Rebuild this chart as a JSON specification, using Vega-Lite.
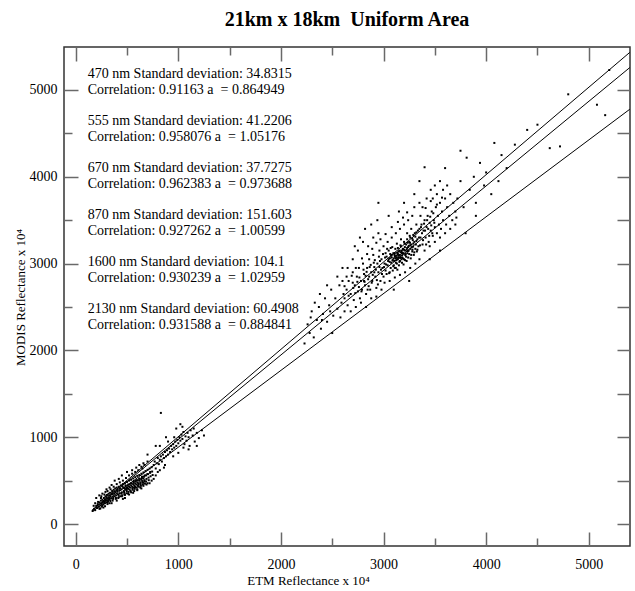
{
"$schema": "https://vega.github.io/schema/vega-lite/v6.json",
"width": 566, "height": 499,
"autosize": {"type": "none"},
"padding": {"left": 64, "top": 47, "right": 5, "bottom": 45},
"background": "white",
"title": {"text": "21km x 18km \u00a0Uniform Area", "font": "Liberation Serif", "fontSize": 20, "fontWeight": "bold", "color": "black", "offset": 16},
"config": {
  "view": {"stroke": "#333", "strokeWidth": 1.5}
},
"datasets": {
"lines": [
 {"band": "870", "e": 160, "m": 161}, {"band": "870", "e": 5400, "m": 5433},
 {"band": "670", "e": 160, "m": 156}, {"band": "670", "e": 5400, "m": 5258},
 {"band": "2130", "e": 160, "m": 142}, {"band": "2130", "e": 5400, "m": 4778}
],
"notesA": [
 {"e": 117, "m": 5182, "t": "470 nm Standard deviation: 34.8315"},
 {"e": 117, "m": 4641, "t": "555 nm Standard deviation: 41.2206"},
 {"e": 117, "m": 4099, "t": "670 nm Standard deviation: 37.7275"},
 {"e": 117, "m": 3558, "t": "870 nm Standard deviation: 151.603"},
 {"e": 117, "m": 3016, "t": "1600 nm Standard deviation: 104.1"},
 {"e": 117, "m": 2475, "t": "2130 nm Standard deviation: 60.4908"}
],
"notesB": [
 {"e": 117, "m": 5003, "t": "Correlation: 0.91163 a \u00a0= 0.864949"},
 {"e": 117, "m": 4462, "t": "Correlation: 0.958076 a \u00a0= 1.05176"},
 {"e": 117, "m": 3920, "t": "Correlation: 0.962383 a \u00a0= 0.973688"},
 {"e": 117, "m": 3379, "t": "Correlation: 0.927262 a \u00a0= 1.00599"},
 {"e": 117, "m": 2837, "t": "Correlation: 0.930239 a \u00a0= 1.02959"},
 {"e": 117, "m": 2296, "t": "Correlation: 0.931588 a \u00a0= 0.884841"}
],
"low": [
 {"e":165,"m":150},{"e":180,"m":175},{"e":190,"m":160},{"e":200,"m":210},{"e":210,"m":185},{"e":215,"m":230},{"e":225,"m":200},{"e":230,"m":250},{"e":240,"m":215},{"e":245,"m":270},
 {"e":250,"m":235},{"e":255,"m":200},{"e":260,"m":280},{"e":265,"m":250},{"e":270,"m":225},{"e":275,"m":300},{"e":280,"m":260},{"e":285,"m":240},{"e":290,"m":320},{"e":295,"m":275},
 {"e":300,"m":250},{"e":305,"m":335},{"e":310,"m":290},{"e":315,"m":265},{"e":320,"m":350},{"e":325,"m":300},{"e":330,"m":280},{"e":335,"m":360},{"e":340,"m":320},{"e":345,"m":295},
 {"e":350,"m":240},{"e":200,"m":300},{"e":230,"m":330},{"e":260,"m":350},{"e":290,"m":370},{"e":310,"m":230},{"e":240,"m":180},{"e":270,"m":190},{"e":190,"m":240},{"e":175,"m":210},
 {"e":355,"m":380},{"e":360,"m":340},{"e":365,"m":310},{"e":370,"m":395},{"e":375,"m":350},{"e":380,"m":320},{"e":385,"m":410},{"e":390,"m":365},{"e":395,"m":330},{"e":400,"m":420},
 {"e":405,"m":380},{"e":410,"m":345},{"e":415,"m":300},{"e":420,"m":430},{"e":425,"m":390},{"e":430,"m":355},{"e":435,"m":320},{"e":440,"m":445},{"e":445,"m":400},{"e":450,"m":365},
 {"e":455,"m":330},{"e":460,"m":460},{"e":465,"m":415},{"e":470,"m":380},{"e":475,"m":345},{"e":480,"m":470},{"e":485,"m":430},{"e":490,"m":395},{"e":495,"m":355},{"e":500,"m":485},
 {"e":505,"m":440},{"e":510,"m":405},{"e":515,"m":370},{"e":520,"m":500},{"e":525,"m":455},{"e":530,"m":420},{"e":535,"m":380},{"e":540,"m":510},{"e":545,"m":470},{"e":550,"m":430},
 {"e":555,"m":395},{"e":560,"m":525},{"e":565,"m":480},{"e":570,"m":445},{"e":575,"m":405},{"e":580,"m":540},{"e":585,"m":495},{"e":590,"m":455},{"e":595,"m":420},{"e":600,"m":555},
 {"e":605,"m":505},{"e":610,"m":470},{"e":615,"m":430},{"e":620,"m":565},{"e":625,"m":520},{"e":630,"m":480},{"e":635,"m":440},{"e":640,"m":580},{"e":645,"m":530},{"e":650,"m":495},
 {"e":655,"m":455},{"e":660,"m":595},{"e":665,"m":545},{"e":670,"m":505},{"e":675,"m":465},{"e":680,"m":610},{"e":685,"m":560},{"e":690,"m":520},{"e":700,"m":625},{"e":705,"m":575},
 {"e":710,"m":535},{"e":720,"m":640},{"e":725,"m":590},{"e":730,"m":550},{"e":740,"m":655},{"e":745,"m":605},{"e":750,"m":565},
 {"e":380,"m":500},{"e":420,"m":520},{"e":450,"m":560},{"e":480,"m":300},{"e":520,"m":340},{"e":560,"m":360},{"e":600,"m":390},{"e":640,"m":410},{"e":400,"m":270},{"e":460,"m":290},
 {"e":500,"m":600},{"e":550,"m":620},{"e":590,"m":650},{"e":620,"m":680},{"e":660,"m":700},{"e":700,"m":470},{"e":740,"m":500},{"e":760,"m":520},{"e":780,"m":560},{"e":800,"m":600},
 {"e":350,"m":450},{"e":330,"m":420},{"e":300,"m":400},{"e":700,"m":720},{"e":650,"m":640},
 {"e":760,"m":680},{"e":770,"m":720},{"e":780,"m":640},{"e":790,"m":700},{"e":800,"m":760},{"e":810,"m":690},{"e":820,"m":740},{"e":830,"m":780},{"e":840,"m":720},{"e":850,"m":800},
 {"e":860,"m":760},{"e":870,"m":830},{"e":880,"m":780},{"e":890,"m":850},{"e":900,"m":800},{"e":910,"m":870},{"e":920,"m":830},{"e":930,"m":900},{"e":940,"m":860},{"e":950,"m":920},
 {"e":960,"m":880},{"e":970,"m":950},{"e":980,"m":900},{"e":990,"m":970},{"e":1000,"m":930},{"e":1010,"m":1000},{"e":1020,"m":960},{"e":1030,"m":1030},{"e":1040,"m":980},{"e":1050,"m":1060},
 {"e":1060,"m":920},{"e":1070,"m":1010},{"e":1080,"m":960},{"e":1090,"m":1050},{"e":1100,"m":1000},{"e":1110,"m":900},{"e":1120,"m":1080},{"e":1140,"m":1020},{"e":1160,"m":950},{"e":1180,"m":1050},
 {"e":1200,"m":990},{"e":1230,"m":1080},{"e":1250,"m":1020},{"e":1100,"m":860},{"e":1050,"m":880},{"e":960,"m":1000},{"e":900,"m":950},{"e":870,"m":680},{"e":950,"m":780},{"e":1000,"m":820},
 {"e":820,"m":900},{"e":860,"m":650},{"e":980,"m":1100},{"e":1020,"m":1150},{"e":830,"m":1280},{"e":880,"m":1000},{"e":1180,"m":900},{"e":1150,"m":1100},{"e":780,"m":900},{"e":700,"m":800},
 {"e":820,"m":620},{"e":1040,"m":1120},
 {"e":205,"m":190},{"e":218,"m":255},{"e":232,"m":175},{"e":246,"m":300},{"e":258,"m":215},{"e":272,"m":265},{"e":286,"m":205},{"e":298,"m":310},{"e":312,"m":250},{"e":326,"m":330},
 {"e":338,"m":265},{"e":352,"m":355},{"e":364,"m":290},{"e":378,"m":375},{"e":392,"m":300},{"e":406,"m":395},{"e":418,"m":335},{"e":432,"m":410},{"e":446,"m":350},{"e":458,"m":430},
 {"e":472,"m":365},{"e":486,"m":445},{"e":498,"m":380},{"e":512,"m":455},{"e":526,"m":395},{"e":538,"m":470},{"e":552,"m":410},{"e":566,"m":495},{"e":578,"m":425},{"e":592,"m":505},
 {"e":606,"m":440},{"e":618,"m":525},{"e":632,"m":455},{"e":646,"m":545},{"e":658,"m":475},{"e":672,"m":560},{"e":686,"m":490},{"e":698,"m":575},{"e":712,"m":505},{"e":726,"m":600},
 {"e":330,"m":240},{"e":360,"m":270},{"e":390,"m":290},{"e":420,"m":310},{"e":450,"m":320},{"e":480,"m":335},{"e":510,"m":350},{"e":540,"m":365},{"e":570,"m":380},{"e":600,"m":400},
 {"e":630,"m":420},{"e":660,"m":440},{"e":690,"m":455},{"e":720,"m":470},{"e":520,"m":430},{"e":540,"m":445},{"e":560,"m":460},{"e":580,"m":470},{"e":600,"m":480},{"e":620,"m":500},
 {"e":640,"m":510},{"e":660,"m":525},{"e":500,"m":415},{"e":480,"m":405},{"e":560,"m":420},{"e":580,"m":430},{"e":610,"m":455},{"e":630,"m":465},{"e":650,"m":480},{"e":670,"m":490},
 {"e":250,"m":320},{"e":280,"m":340},{"e":310,"m":380},{"e":340,"m":400},{"e":370,"m":430},{"e":400,"m":460},{"e":430,"m":480},{"e":460,"m":500},{"e":490,"m":530},{"e":520,"m":560},
 {"e":550,"m":580},{"e":580,"m":600},{"e":610,"m":620},{"e":640,"m":660},{"e":670,"m":680}
],
"high": [
 {"e":2230,"m":2080},{"e":2260,"m":2300},{"e":2280,"m":2200},{"e":2300,"m":2450},{"e":2320,"m":2150},{"e":2350,"m":2350},{"e":2370,"m":2500},{"e":2390,"m":2250},{"e":2410,"m":2420},{"e":2430,"m":2600},
 {"e":2450,"m":2330},{"e":2470,"m":2520},{"e":2490,"m":2700},{"e":2510,"m":2400},{"e":2530,"m":2600},{"e":2550,"m":2480},{"e":2570,"m":2750},{"e":2590,"m":2550},{"e":2610,"m":2650},{"e":2380,"m":2650},
 {"e":2450,"m":2750},{"e":2500,"m":2200},{"e":2330,"m":2550},{"e":2580,"m":2380},{"e":2550,"m":2850},{"e":2620,"m":2450},{"e":2290,"m":2380},{"e":2400,"m":2350},{"e":2480,"m":2450},{"e":2600,"m":2800},
 {"e":2620,"m":2600},{"e":2640,"m":2700},{"e":2650,"m":2520},{"e":2660,"m":2800},{"e":2680,"m":2650},{"e":2700,"m":2900},{"e":2710,"m":2580},{"e":2720,"m":2750},{"e":2740,"m":2850},{"e":2750,"m":2680},
 {"e":2760,"m":2950},{"e":2770,"m":2600},{"e":2780,"m":2800},{"e":2790,"m":2700},{"e":2800,"m":3000},{"e":2810,"m":2880},{"e":2820,"m":2750},{"e":2830,"m":2650},{"e":2840,"m":2950},{"e":2850,"m":2820},
 {"e":2860,"m":3050},{"e":2870,"m":2700},{"e":2880,"m":2900},{"e":2890,"m":2800},{"e":2900,"m":3100},{"e":2910,"m":2960},{"e":2920,"m":2850},{"e":2930,"m":2720},{"e":2940,"m":3000},{"e":2950,"m":2900},
 {"e":2960,"m":3150},{"e":2970,"m":2800},{"e":2980,"m":3050},{"e":2990,"m":2950},{"e":3000,"m":2850},{"e":2650,"m":2950},{"e":2700,"m":3050},{"e":2750,"m":3150},{"e":2800,"m":3250},{"e":2850,"m":3200},
 {"e":2900,"m":3300},{"e":2950,"m":3350},{"e":2680,"m":2450},{"e":2730,"m":2500},{"e":2780,"m":2550},{"e":2830,"m":2500},{"e":2880,"m":2600},{"e":2930,"m":2620},{"e":2980,"m":2700},{"e":2700,"m":2780},
 {"e":2760,"m":2730},{"e":2810,"m":2800},{"e":2860,"m":2850},{"e":2910,"m":2900},{"e":2960,"m":2960},{"e":2640,"m":2850},{"e":2600,"m":2950},{"e":2720,"m":3200},{"e":2770,"m":3300},{"e":2820,"m":3400},
 {"e":2880,"m":3450},{"e":2940,"m":3500},
 {"e":3010,"m":3000},{"e":3020,"m":2920},{"e":3030,"m":3080},{"e":3040,"m":2980},{"e":3050,"m":3150},{"e":3060,"m":3020},{"e":3070,"m":2950},{"e":3080,"m":3100},{"e":3090,"m":3040},{"e":3100,"m":2980},
 {"e":3110,"m":3120},{"e":3120,"m":3060},{"e":3130,"m":3000},{"e":3140,"m":3180},{"e":3150,"m":3090},{"e":3160,"m":3030},{"e":3170,"m":3200},{"e":3180,"m":3120},{"e":3190,"m":3060},{"e":3200,"m":3250},
 {"e":3210,"m":3150},{"e":3220,"m":3080},{"e":3230,"m":3280},{"e":3240,"m":3190},{"e":3250,"m":3110},{"e":3260,"m":3300},{"e":3270,"m":3220},{"e":3280,"m":3140},{"e":3290,"m":3330},{"e":3300,"m":3250},
 {"e":3310,"m":3170},{"e":3320,"m":3360},{"e":3330,"m":3280},{"e":3340,"m":3200},{"e":3350,"m":3400},{"e":3030,"m":2880},{"e":3060,"m":2900},{"e":3090,"m":2920},{"e":3120,"m":2950},{"e":3150,"m":2980},
 {"e":3180,"m":3010},{"e":3210,"m":3040},{"e":3240,"m":3070},{"e":3270,"m":3100},{"e":3300,"m":3130},{"e":3330,"m":3160},{"e":3050,"m":3050},{"e":3080,"m":3070},{"e":3110,"m":3090},{"e":3140,"m":3110},
 {"e":3170,"m":3130},{"e":3200,"m":3160},{"e":3230,"m":3180},{"e":3260,"m":3210},{"e":3290,"m":3230},{"e":3320,"m":3260},{"e":3100,"m":3060},{"e":3120,"m":3010},{"e":3140,"m":3050},{"e":3160,"m":3100},
 {"e":3180,"m":3070},{"e":3200,"m":3050},{"e":3110,"m":2950},{"e":3130,"m":3070},{"e":3150,"m":3140},{"e":3190,"m":3170},{"e":3220,"m":3220},{"e":3250,"m":3250},{"e":3280,"m":3290},{"e":3310,"m":3310},
 {"e":3000,"m":3200},{"e":3040,"m":3250},{"e":3080,"m":3300},{"e":3120,"m":3350},{"e":3160,"m":3400},{"e":3200,"m":3450},{"e":3240,"m":3500},{"e":3280,"m":3550},{"e":3010,"m":2780},{"e":3060,"m":2800},
 {"e":3110,"m":2840},{"e":3160,"m":2870},{"e":3210,"m":2900},{"e":3260,"m":2950},{"e":3310,"m":3000},{"e":3350,"m":3050},{"e":3020,"m":3120},{"e":3070,"m":3180},{"e":3130,"m":3230},{"e":3170,"m":3280},
 {"e":3230,"m":3350},{"e":3270,"m":3400},{"e":3320,"m":3450},
 {"e":3360,"m":3300},{"e":3370,"m":3450},{"e":3380,"m":3220},{"e":3390,"m":3380},{"e":3400,"m":3500},{"e":3410,"m":3300},{"e":3420,"m":3420},{"e":3430,"m":3550},{"e":3440,"m":3250},{"e":3450,"m":3470},
 {"e":3460,"m":3380},{"e":3470,"m":3600},{"e":3480,"m":3320},{"e":3490,"m":3500},{"e":3500,"m":3420},{"e":3510,"m":3650},{"e":3520,"m":3350},{"e":3530,"m":3550},{"e":3540,"m":3450},{"e":3550,"m":3700},
 {"e":3560,"m":3400},{"e":3570,"m":3600},{"e":3580,"m":3500},{"e":3600,"m":3750},{"e":3610,"m":3450},{"e":3620,"m":3650},{"e":3640,"m":3550},{"e":3650,"m":3800},{"e":3670,"m":3500},{"e":3680,"m":3700},
 {"e":3700,"m":3600},{"e":3380,"m":3650},{"e":3420,"m":3750},{"e":3460,"m":3850},{"e":3500,"m":3900},{"e":3550,"m":3950},{"e":3400,"m":3150},{"e":3450,"m":3200},{"e":3500,"m":3250},{"e":3550,"m":3300},
 {"e":3600,"m":3350},{"e":3650,"m":3400},{"e":3360,"m":3550},{"e":3480,"m":3750},{"e":3520,"m":3800},{"e":3580,"m":3850},{"e":3620,"m":3900},{"e":3700,"m":3450},
 {"e":3720,"m":3750},{"e":3750,"m":3950},{"e":3780,"m":3650},{"e":3810,"m":4220},{"e":3840,"m":3850},{"e":3880,"m":4000},{"e":3900,"m":3700},{"e":3940,"m":4160},{"e":3980,"m":3900},{"e":4000,"m":4050},
 {"e":4050,"m":3800},{"e":4080,"m":4390},{"e":4120,"m":3950},{"e":4200,"m":4100},{"e":4280,"m":4370},{"e":4400,"m":4540},{"e":4500,"m":4600},{"e":4620,"m":4330},{"e":4720,"m":4350},{"e":3400,"m":4110},
 {"e":3710,"m":3530},{"e":3300,"m":3800},{"e":3200,"m":3700},{"e":3350,"m":3950},{"e":3600,"m":4100},{"e":5080,"m":4830},{"e":5160,"m":4710},{"e":5200,"m":5230},{"e":4800,"m":4950},{"e":3750,"m":4300},
 {"e":3150,"m":3600},{"e":3050,"m":3550},{"e":2950,"m":3700},{"e":3100,"m":2700},{"e":3250,"m":2800},{"e":3450,"m":3050},{"e":3550,"m":3150},{"e":3800,"m":3350},{"e":3900,"m":3550},{"e":4150,"m":4250},
 {"e":2815,"m":2790},{"e":2835,"m":2905},{"e":2855,"m":2740},{"e":2875,"m":2985},{"e":2895,"m":2870},{"e":2915,"m":3040},{"e":2935,"m":2810},{"e":2955,"m":3080},{"e":2975,"m":2930},{"e":2995,"m":3110},
 {"e":3005,"m":2960},{"e":3015,"m":3070},{"e":3025,"m":2990},{"e":3035,"m":3170},{"e":3045,"m":3030},{"e":3055,"m":2890},{"e":3065,"m":3110},{"e":3075,"m":3010},{"e":3085,"m":3190},{"e":3095,"m":2970},
 {"e":3105,"m":3030},{"e":3115,"m":3170},{"e":3125,"m":3090},{"e":3135,"m":2930},{"e":3145,"m":3140},{"e":3155,"m":3020},{"e":3165,"m":3210},{"e":3175,"m":3050},{"e":3185,"m":3160},{"e":3195,"m":2990},
 {"e":3205,"m":3230},{"e":3215,"m":3110},{"e":3225,"m":3030},{"e":3235,"m":3240},{"e":3245,"m":3150},{"e":3255,"m":3320},{"e":3265,"m":3060},{"e":3275,"m":3190},{"e":3285,"m":3270},{"e":3295,"m":3100},
 {"e":3305,"m":3350},{"e":3315,"m":3220},{"e":3325,"m":3140},{"e":3335,"m":3380},{"e":3345,"m":3300},{"e":3355,"m":3210},{"e":3365,"m":3420},{"e":3375,"m":3350},{"e":3385,"m":3270},{"e":3395,"m":3460},
 {"e":3405,"m":3380},{"e":3415,"m":3220},{"e":3425,"m":3500},{"e":3435,"m":3400},{"e":3445,"m":3320},{"e":3455,"m":3540},{"e":3465,"m":3440},{"e":3475,"m":3350},{"e":3485,"m":3580},{"e":3495,"m":3470},
 {"e":2705,"m":2720},{"e":2725,"m":2660},{"e":2745,"m":2790},{"e":2765,"m":2840},{"e":2785,"m":2680},{"e":2805,"m":2930},{"e":2825,"m":2860},{"e":2845,"m":2700},{"e":2865,"m":2960},{"e":2885,"m":2780},
 {"e":2905,"m":3010},{"e":2925,"m":2930},{"e":2945,"m":2760},{"e":2965,"m":3030},{"e":2985,"m":2880},
 {"e":3062,"m":3062},{"e":3088,"m":3035},{"e":3112,"m":3078},{"e":3138,"m":3102},{"e":3162,"m":3065},{"e":3188,"m":3125},{"e":3212,"m":3098},{"e":3238,"m":3145},{"e":3262,"m":3170},{"e":3288,"m":3195},
 {"e":3105,"m":3105},{"e":3132,"m":3125},{"e":3158,"m":3150},{"e":3182,"m":3095},{"e":3208,"m":3190},{"e":3232,"m":3120},{"e":3258,"m":3240},{"e":3282,"m":3160},{"e":3074,"m":3090},{"e":3096,"m":3120},
 {"e":3126,"m":3040},{"e":3146,"m":3070},{"e":3176,"m":3145},{"e":3196,"m":3115},{"e":3226,"m":3160},{"e":3246,"m":3205},
 {"e":2620,"m":2740},{"e":2660,"m":2630},{"e":2690,"m":2860},{"e":2730,"m":2950},{"e":2790,"m":3060},{"e":2840,"m":3110},{"e":2890,"m":3170},{"e":2930,"m":3240},{"e":2970,"m":3280},{"e":3020,"m":3340},
 {"e":3080,"m":3420},{"e":3140,"m":3480},{"e":3190,"m":3530},{"e":3230,"m":3590},{"e":3300,"m":3650},{"e":3350,"m":3700},{"e":3410,"m":3640},{"e":3460,"m":3720},{"e":3520,"m":3680},{"e":3570,"m":3760}
]
},
"layer": [
 {
  "data": {"name": "lines"},
  "mark": {"type": "line", "color": "black", "strokeWidth": 1},
  "encoding": {
   "x": {"field": "e", "type": "quantitative", "scale": {"domain": [-114, 5402], "nice": false, "zero": false},
         "axis": {"orient": "bottom", "gridOpacity": 0, "domain": false,
                  "values": [0,1000,2000,3000,4000,5000], "format": "d", "tickSize": -14, "tickColor": "dimgray", "tickWidth": 1.5, "labelPadding": 25,
                  "labelFont": "Liberation Sans Narrow", "labelFontSize": 14, "labelColor": "black", "labelFlush": false, "labelOverlap": false,
                  "title": "ETM Reflectance x 10\u2074", "titleFont": "Liberation Serif", "titleFontSize": 13, "titleFontWeight": "normal", "titleColor": "black",
                  "titleX": 244, "titleY": 38, "titleBaseline": "alphabetic", "titleAlign": "center"}},
   "y": {"field": "m", "type": "quantitative", "scale": {"domain": [-253, 5495], "nice": false, "zero": false},
         "axis": {"orient": "left", "gridOpacity": 0, "domain": false,
                  "values": [0,1000,2000,3000,4000,5000], "format": "d", "tickSize": -14, "tickColor": "dimgray", "tickWidth": 1.5, "labelPadding": 21,
                  "labelFont": "Liberation Sans Narrow", "labelFontSize": 14, "labelColor": "black", "labelFlush": false, "labelOverlap": false,
                  "title": "MODIS Reflectance x 10\u2074", "titleFont": "Liberation Serif", "titleFontSize": 13, "titleFontWeight": "normal", "titleColor": "black",
                  "titleX": -44, "titleY": 250, "titleAngle": 270, "titleBaseline": "middle", "titleAlign": "center"}},
   "detail": {"field": "band", "type": "nominal"}
  }
 },
 {
  "data": {"name": "low"},
  "mark": {"type": "square", "size": 4, "color": "black", "opacity": 1, "filled": true},
  "encoding": {
   "x": {"field": "e", "type": "quantitative",
         "axis": {"orient": "bottom", "grid": false, "domain": false, "labels": false, "title": null,
                  "values": [500,1500,2500,3500,4500], "tickSize": -8, "tickColor": "dimgray", "tickWidth": 1.5}},
   "y": {"field": "m", "type": "quantitative",
         "axis": {"orient": "left", "grid": false, "domain": false, "labels": false, "title": null,
                  "values": [500,1500,2500,3500,4500], "tickSize": -8, "tickColor": "dimgray", "tickWidth": 1.5}}
  }
 },
 {
  "data": {"name": "high"},
  "mark": {"type": "square", "size": 4, "color": "black", "opacity": 1, "filled": true},
  "encoding": {
   "x": {"field": "e", "type": "quantitative",
         "axis": {"orient": "top", "grid": false, "domain": false, "labels": false, "title": null,
                  "values": [0,1000,2000,3000,4000,5000], "tickSize": -14, "tickColor": "dimgray", "tickWidth": 1.5}},
   "y": {"field": "m", "type": "quantitative",
         "axis": {"orient": "right", "grid": false, "domain": false, "labels": false, "title": null,
                  "values": [0,500,1000,1500,2000,2500,3000,3500,4000,4500,5000], "tickSize": -13, "tickColor": "dimgray", "tickWidth": 1.5}}
  }
 },
 {
  "data": {"name": "notesA"},
  "mark": {"type": "text", "align": "left", "baseline": "middle", "font": "Liberation Serif", "fontSize": 14, "color": "black"},
  "encoding": {
   "x": {"field": "e", "type": "quantitative",
         "axis": {"orient": "top", "grid": false, "domain": false, "labels": false, "title": null,
                  "values": [500,1500,2500,3500,4500], "tickSize": -8, "tickColor": "dimgray", "tickWidth": 1.5}},
   "y": {"field": "m", "type": "quantitative", "axis": null},
   "text": {"field": "t", "type": "nominal"}
  }
 },
 {
  "data": {"name": "notesB"},
  "mark": {"type": "text", "align": "left", "baseline": "middle", "font": "Liberation Serif", "fontSize": 14, "color": "black"},
  "encoding": {
   "x": {"field": "e", "type": "quantitative", "axis": null},
   "y": {"field": "m", "type": "quantitative", "axis": null},
   "text": {"field": "t", "type": "nominal"}
  }
 }
],
"resolve": {"axis": {"x": "independent", "y": "independent"}}
}
